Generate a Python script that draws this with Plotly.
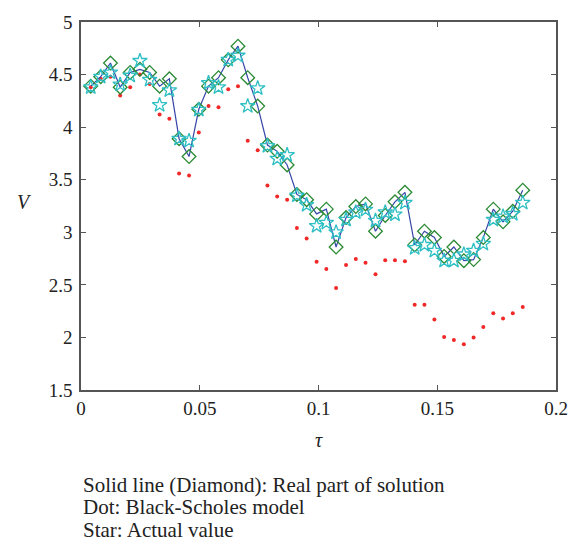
import plotly.graph_objects as go

tau = [0.0041, 0.0083, 0.0124, 0.0165, 0.0207, 0.0248, 0.0289, 0.0331, 0.0372, 0.0413,
       0.0455, 0.0496, 0.0537, 0.0579, 0.0620, 0.0661, 0.0702, 0.0744, 0.0785, 0.0826,
       0.0868, 0.0909, 0.0950, 0.0992, 0.1033, 0.1074, 0.1116, 0.1157, 0.1198, 0.1240,
       0.1281, 0.1322, 0.1364, 0.1405, 0.1446, 0.1488, 0.1529, 0.1570, 0.1612, 0.1653,
       0.1694, 0.1736, 0.1777, 0.1818, 0.1860]

real_part = [4.39, 4.48, 4.61, 4.38, 4.52, 4.55, 4.52, 4.39, 4.46, 3.89,
             3.72, 4.17, 4.39, 4.47, 4.64, 4.77, 4.47, 4.20, 3.83, 3.77,
             3.64, 3.36, 3.31, 3.175, 3.22, 2.86, 3.14, 3.245, 3.27, 3.01,
             3.16, 3.29, 3.38, 2.88, 3.01, 2.95, 2.77, 2.86, 2.73, 2.74,
             2.95, 3.22, 3.10, 3.20, 3.40]

black_scholes = [4.38, 4.46, 4.48, 4.30, 4.38, 4.50, 4.41, 4.12, 4.08, 3.56,
                 3.54, 3.95, 4.20, 4.19, 4.36, 4.39, 3.87, 3.78, 3.445, 3.34,
                 3.31, 3.04, 2.94, 2.72, 2.65, 2.47, 2.69, 2.745, 2.71, 2.60,
                 2.735, 2.735, 2.725, 2.31, 2.31, 2.17, 2.005, 1.975, 1.935, 2.00,
                 2.10, 2.23, 2.18, 2.23, 2.29]

actual = [4.38, 4.48, 4.52, 4.405, 4.49, 4.63, 4.45, 4.21, 4.35, 3.89,
          3.87, 4.165, 4.42, 4.38, 4.64, 4.68, 4.20, 4.37, 3.82, 3.70,
          3.735, 3.35, 3.26, 3.06, 3.09, 3.00, 3.12, 3.19, 3.215, 3.11,
          3.19, 3.17, 3.28, 2.85, 2.88, 2.825, 2.73, 2.73, 2.79, 2.825,
          2.89, 3.12, 3.15, 3.175, 3.28]

x_ticks = [0, 0.05, 0.1, 0.15, 0.2]
x_tick_labels = ["0", "0.05", "0.1", "0.15", "0.2"]
y_ticks = [1.5, 2, 2.5, 3, 3.5, 4, 4.5, 5]
y_tick_labels = ["1.5", "2", "2.5", "3", "3.5", "4", "4.5", "5"]

caption = ["Solid line (Diamond): Real part of solution",
           "Dot: Black-Scholes model",
           "Star: Actual value"]

serif = "Liberation Serif, Times New Roman, serif"

fig = go.Figure()
fig.add_trace(go.Scatter(x=tau, y=black_scholes, mode="markers",
                         marker=dict(symbol="circle", size=4, color="#f02828"),
                         name="Black-Scholes"))
fig.add_trace(go.Scatter(x=tau, y=real_part, mode="lines+markers",
                         line=dict(color="#3646a8", width=1.2),
                         marker=dict(symbol="diamond-open", size=10.5, color="#2a8a34",
                                     line=dict(width=1.3, color="#2a8a34")),
                         name="Real part"))
fig.add_trace(go.Scatter(x=tau, y=actual, mode="markers",
                         marker=dict(symbol="star-open", size=11, color="#2ebfc4",
                                     line=dict(width=1.3, color="#2ebfc4")),
                         name="Actual"))

axis_common = dict(showgrid=False, zeroline=False, showline=True, linecolor="#555555",
                   linewidth=1.5, mirror="ticks", ticks="inside", ticklen=5,
                   tickcolor="#555555", tickwidth=1,
                   tickfont=dict(family=serif, size=19, color="#222222"))

fig.update_xaxes(range=[0, 0.2], tickvals=x_ticks, ticktext=x_tick_labels, **axis_common)
fig.update_yaxes(range=[1.5, 5], tickvals=y_ticks, ticktext=y_tick_labels,
                 ticklabelstandoff=3, **axis_common)

annotations = [
    dict(text="<i>V</i>", x=-0.12, y=0.51, xref="paper", yref="paper", showarrow=False,
         font=dict(family=serif, size=20, color="#222222"), xanchor="center", yanchor="middle"),
    dict(text="<i>τ</i>", x=0.5, y=-0.135, xref="paper", yref="paper", showarrow=False,
         font=dict(family=serif, size=20, color="#222222"), xanchor="center", yanchor="middle"),
]
for i, line in enumerate(caption):
    annotations.append(dict(text=line, x=0.0, y=(390 - (487 + 23 * i)) / 376,
                            xref="paper", yref="paper", showarrow=False,
                            xanchor="left", yanchor="middle", align="left",
                            font=dict(family=serif, size=21, color="#222222")))

fig.update_layout(width=580, height=549, showlegend=False,
                  margin=dict(l=80.5, r=22, t=14, b=159),
                  plot_bgcolor="white", paper_bgcolor="white",
                  annotations=annotations)

fig.write_html("out.html")
